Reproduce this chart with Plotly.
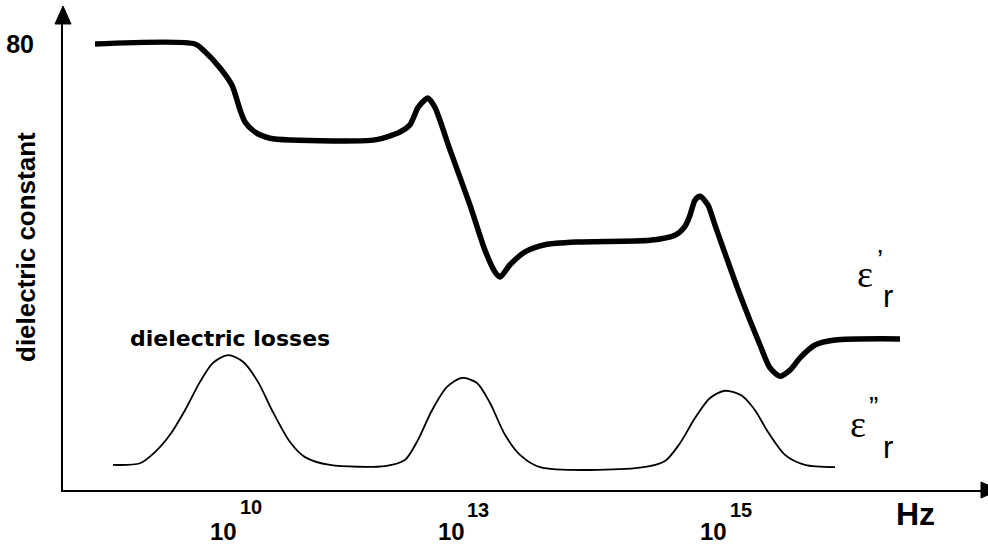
import plotly.graph_objects as go

# ---------------- data (schematic) ----------------
# x: schematic frequency position (plot units), y: relative permittivity (arb. units)
eps_real_x = [95, 195, 205, 220, 232, 240, 245, 255, 270, 290, 375, 400, 410, 418, 425, 428,
              435, 450, 470, 485, 495, 500, 510, 525, 545, 580, 650, 675, 685, 690, 695, 700,
              708, 715, 740, 760, 770, 780, 790, 800, 815, 835, 900]
eps_real_y = [80.0, 80.0, 78.6, 75.7, 72.6, 68.2, 66.0, 64.2, 63.1, 62.8, 62.8, 64.2, 65.5, 68.6,
              70.0, 70.3, 68.6, 61.0, 51.1, 43.0, 39.1, 38.2, 40.4, 42.7, 44.0, 44.5, 44.8, 45.7,
              47.3, 49.3, 52.0, 52.7, 51.1, 47.5, 35.0, 26.0, 21.9, 20.4, 21.5, 23.7, 26.0, 26.9, 27.1]

eps_imag_x = [113, 140, 155, 170, 185, 200, 213, 228, 243, 258, 272, 290, 305, 330, 385, 405,
              418, 432, 447, 462, 477, 490, 505, 520, 540, 640, 665, 680, 695, 710, 725, 742,
              755, 768, 785, 805, 835]
eps_imag_y = [4.5, 4.8, 6.8, 9.9, 14.3, 19.4, 22.8, 24.2, 23.0, 19.4, 14.3, 8.6, 5.9, 4.5, 4.3,
              5.4, 9.0, 14.3, 18.5, 20.1, 19.2, 15.6, 9.9, 6.3, 4.1, 4.0, 5.2, 8.4, 12.9, 16.5,
              17.8, 16.9, 14.3, 10.4, 6.3, 4.5, 4.1]

tick_pos = [223, 451, 713]
tick_base = ["10", "10", "10"]
tick_exp = ["10", "13", "15"]
y_tick_vals = [80]
y_tick_text = ["<b>80</b>"]

W, H = 988, 545
ML, MR, MT, MB = 63, 6, 23, 55
PW, PH = W - ML - MR, H - MT - MB
Y_MAX = (490 - 23) * 80 / 446.0


def px(xp, yp):
    """pixel position -> paper coords"""
    return (xp - ML) / PW, (H - MB - yp) / PH


fig = go.Figure()
fig.add_trace(go.Scatter(x=eps_real_x, y=eps_real_y, mode="lines",
                         line=dict(color="black", width=5.5, shape="spline", smoothing=0.7),
                         hoverinfo="skip", showlegend=False))
fig.add_trace(go.Scatter(x=eps_imag_x, y=eps_imag_y, mode="lines",
                         line=dict(color="black", width=1.8, shape="spline", smoothing=0.8),
                         hoverinfo="skip", showlegend=False))

annotations = []
BOLD = "Liberation Sans"
# x tick labels (base and exponent)
exp_shift = [(28, 25), (27, 22), (28, 22)]
for p, b, e, (dx, dy) in zip(tick_pos, tick_base, tick_exp, exp_shift):
    annotations.append(dict(x=p, xref="x", y=px(0, 531.5)[1], yref="paper", text="<b>%s</b>" % b,
                            showarrow=False, xanchor="center", yanchor="middle",
                            font=dict(family=BOLD, size=24, color="black")))
    annotations.append(dict(x=p, xref="x", y=px(0, 531.5)[1], yref="paper", text="<b>%s</b>" % e,
                            showarrow=False, xanchor="center", yanchor="middle",
                            xshift=dx, yshift=dy,
                            font=dict(family=BOLD, size=20, color="black")))


def ann(text, xp, yp, size, family=BOLD, angle=0):
    x, y = px(xp, yp)
    annotations.append(dict(x=x, y=y, xref="paper", yref="paper", text=text, showarrow=False,
                            xanchor="center", yanchor="middle", textangle=angle,
                            font=dict(family=family, size=size, color="black")))


ann("<b>Hz</b>", 915, 514, 32)
ann("<b>dielectric constant</b>", 26, 247, 26, angle=-90)
ann("<b>dielectric losses</b>", 229.5, 338, 22, family="DejaVu Sans")
# epsilon labels
ann("ε", 864.5, 274, 38, family="Liberation Serif")
ann("’", 880, 259, 28, family="Liberation Sans")
ann("r", 888, 296.5, 31, family="Liberation Sans")
ann("ε", 857.5, 424, 38, family="Liberation Serif")
ann("”", 873, 406, 28, family="Liberation Sans")
ann("r", 887.5, 447.5, 31, family="Liberation Sans")

# arrowheads on axes
ax0, ay0 = px(55, 24)
ax1, ay1 = px(71, 24)
ax2, ay2 = px(63, 6)
bx0, by0 = px(981, 482)
bx1, by1 = px(981, 498)
bx2, by2 = px(999, 490)
shapes = [
    dict(type="path", xref="paper", yref="paper",
         path="M %f %f L %f %f L %f %f Z" % (ax0, ay0, ax1, ay1, ax2, ay2),
         fillcolor="black", line=dict(color="black", width=1)),
    dict(type="path", xref="paper", yref="paper",
         path="M %f %f L %f %f L %f %f Z" % (bx0, by0, bx1, by1, bx2, by2),
         fillcolor="black", line=dict(color="black", width=1)),
]

fig.update_layout(
    width=W, height=H, margin=dict(l=ML, r=MR, t=MT, b=MB),
    paper_bgcolor="white", plot_bgcolor="white",
    annotations=annotations, shapes=shapes,
    xaxis=dict(range=[ML, W - MR], showgrid=False, zeroline=False, showline=True,
               linecolor="black", linewidth=2, showticklabels=False, ticks="", fixedrange=True),
    yaxis=dict(range=[0, Y_MAX], showgrid=False, zeroline=False, showline=True,
               linecolor="black", linewidth=2, tickvals=y_tick_vals, ticktext=y_tick_text,
               ticks="", ticklabelstandoff=22,
               tickfont=dict(family=BOLD, size=25, color="black"), fixedrange=True),
)

fig.write_html("out.html", config={"displayModeBar": False})
